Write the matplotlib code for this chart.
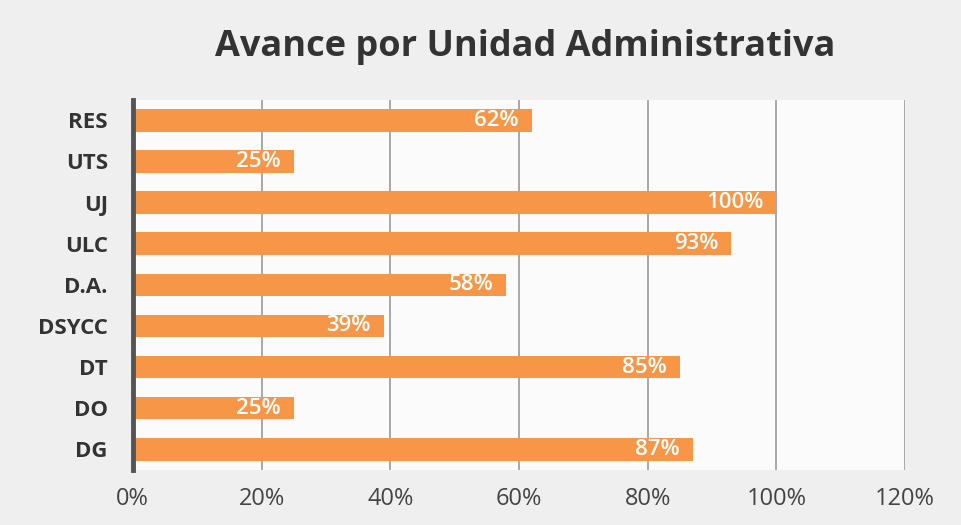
import numpy as np
import matplotlib.pyplot as plt
from matplotlib.ticker import FuncFormatter

units = ['RES', 'UTS', 'UJ', 'ULC', 'D.A.', 'DSYCC', 'DT', 'DO', 'DG']
progress = [62, 25, 100, 93, 58, 39, 85, 25, 87]
xticks = [0, 20, 40, 60, 80, 100, 120]

plt.rcParams['font.family'] = ['Open Sans', 'DejaVu Sans']

fig = plt.figure(figsize=(9.62, 5.25), dpi=100, facecolor='#efefef')
ax = fig.add_axes([0.138, 0.105, 0.803, 0.705])
ax.set_facecolor('#fbfbfb')

y = np.arange(len(units))
bars = ax.barh(y, progress, height=0.55, color='#f79646', zorder=3)
for b, v in zip(bars, progress):
    ax.text(b.get_width() - 2, b.get_y() + b.get_height() / 2, f'{v}%',
            ha='right', va='center', color='white', fontsize=16,
            fontweight='semibold', zorder=4)

ax.set_ylim(len(units) - 0.5, -0.5)
ax.set_yticks(y)
ax.set_yticklabels(units, fontsize=16, fontweight='bold', color='#333333')
ax.set_xlim(0, 120)
ax.set_xticks(xticks)
ax.xaxis.set_major_formatter(FuncFormatter(lambda v, p: f'{v:.0f}%'))
ax.tick_params(axis='x', labelsize=17, colors='#444444', length=0, pad=12)
ax.tick_params(axis='y', length=0, pad=18)
ax.grid(axis='x', color='#9a9a9a', linewidth=1.2, zorder=0)

for s in ['top', 'right', 'bottom']:
    ax.spines[s].set_visible(False)
ax.spines['left'].set_color('#555555')
ax.spines['left'].set_linewidth(3.5)
ax.spines['left'].set_zorder(5)

fig.text(0.546, 0.91, 'Avance por Unidad Administrativa', ha='center',
         va='center', fontsize=26, fontweight='bold', color='#333333')

fig.savefig('out.png', dpi=100, facecolor=fig.get_facecolor())
